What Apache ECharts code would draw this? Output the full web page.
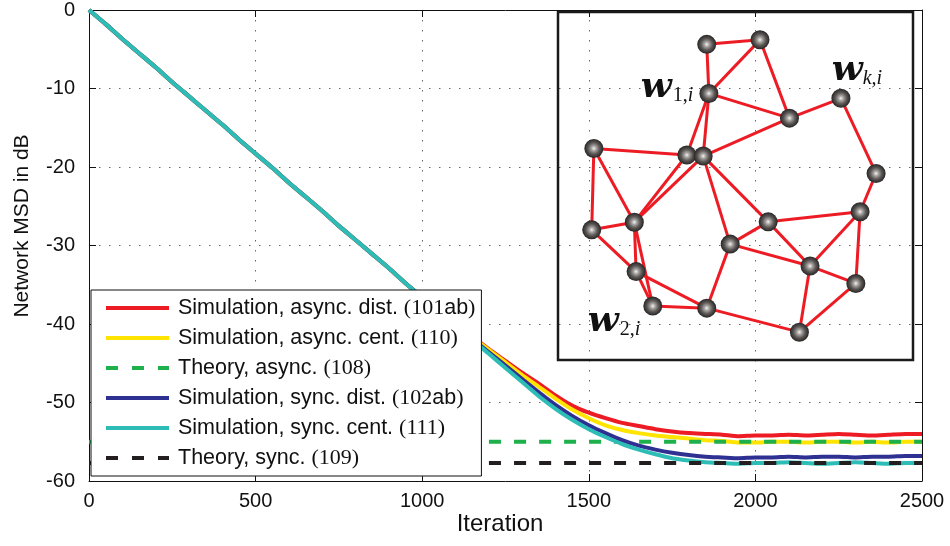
<!DOCTYPE html>
<html>
<head>
<meta charset="utf-8">
<script src="https://cdn.jsdelivr.net/npm/echarts@6/dist/echarts.min.js"></script>
<style>html,body{margin:0;padding:0;background:#fff;}#c{width:950px;height:546px;}</style>
</head>
<body>
<div id="c"></div>
<script>
// ---- data ----
var iterations = [0,50,100,150,200,250,300,350,400,450,500,550,600,650,700,750,800,850,900,950,1000,1050,
  1100,1150,1200,1250,1300,1350,1400,1450,1500,1550,1600,1650,1700,1750,1800,1850,1900,1950,2000,
  2050,2100,2150,2200,2250,2300,2350,2400,2450,2500];
var transient = [0,-1.8,-3.7,-5.5,-7.3,-9.2,-11.0,-12.8,-14.6,-16.5,-18.3,-20.1,-22.0,-23.8,-25.6,-27.5,-29.3,-31.1,-32.9,-34.8,-36.6,-38.4];
var asyncDist = [-40.0,-41.6,-43.2,-44.7,-46.2,-47.6,-49.1,-50.4,-51.3,-52.0,-52.6,-53.0,-53.4,-53.7,-53.9,-54.0,-54.1,-54.3,-54.2,-54.2,-54.1,-54.2,-54.1,-54.0,-54.1,-54.2,-54.1,-54.0,-54.0];
var asyncCent = [-40.1,-41.7,-43.3,-44.9,-46.5,-48.0,-49.5,-50.9,-52.0,-52.9,-53.5,-53.9,-54.2,-54.4,-54.6,-54.8,-54.9,-55.1,-55.1,-55.0,-55.0,-55.1,-55.0,-55.0,-55.1,-55.0,-55.1,-55.0,-55.0];
var syncDist = [-40.2,-41.9,-43.6,-45.3,-47.0,-48.7,-50.3,-51.7,-52.9,-53.9,-54.8,-55.5,-56.0,-56.4,-56.7,-56.9,-57.0,-57.1,-57.0,-57.0,-56.9,-57.0,-56.9,-56.9,-57.0,-56.9,-56.9,-56.8,-56.8];
var syncCent = [-40.3,-42.0,-43.8,-45.6,-47.4,-49.2,-50.8,-52.2,-53.4,-54.4,-55.3,-56.0,-56.6,-57.1,-57.4,-57.6,-57.7,-57.8,-57.7,-57.7,-57.6,-57.7,-57.8,-57.7,-57.6,-57.7,-57.8,-57.7,-57.7];
var theoryAsync = -55.0;
var theorySync = -57.7;
var seriesNames = ['Simulation, async. dist. (101ab)','Simulation, async. cent. (110)','Theory, async. (108)',
  'Simulation, sync. dist. (102ab)','Simulation, sync. cent. (111)','Theory, sync. (109)'];
var legendRich = ['{s|Simulation, async. dist. }{m|(101}{s|ab}{m|)}','{s|Simulation, async. cent. }{m|(110)}',
  '{s|Theory, async. }{m|(108)}','{s|Simulation, sync. dist. }{m|(102}{s|ab}{m|)}',
  '{s|Simulation, sync. cent. }{m|(111)}','{s|Theory, sync. }{m|(109)}'];
var xTicks = [0,500,1000,1500,2000,2500];
var yTicks = [-60,-50,-40,-30,-20,-10,0];
// inset network: node layout (unit square 0..100) and links
var nodeX = [41.9,56.9,42.5,65.2,79.7,10.1,36.3,40.9,89.6,21.5,9.5,59.2,85.1,48.5,22.0,71.0,83.9,26.7,41.9,68.0];
var nodeY = [90.7,92.0,76.6,69.5,75.2,60.8,58.9,58.6,53.6,39.6,37.4,39.7,42.6,33.3,25.4,27.0,22.0,15.5,14.9,8.0];
var links = [[0,1],[0,2],[1,2],[1,3],[2,3],[2,6],[2,7],[3,7],[3,4],[4,8],[8,12],[5,6],[5,9],[5,10],[6,9],[7,9],
  [7,11],[7,13],[9,10],[9,14],[9,17],[10,14],[14,17],[14,18],[17,18],[13,11],[13,18],[13,15],[11,12],[11,15],
  [12,15],[12,16],[15,16],[15,19],[16,19],[18,19]];
var nodeLabels = {2:'{w|w}{n|1,}{i|i}', 4:'{w|w}{i|k,i}', 17:'{w|w}{n|2,}{i|i}'};

var colors = ['#ED1C24','#FFE400','#1DB04B','#2E3192','#2DBDB6','#231F20'];
function join(base, tail){ return base.concat(tail); }
var seriesValues = [join(transient,asyncDist), join(transient,asyncCent), null, join(transient,syncDist), join(transient,syncCent), null];
var theoryVals = {2: theoryAsync, 5: theorySync};

var SANS = 'Liberation Sans, Arial, Helvetica, sans-serif';
var SERIF = 'Liberation Serif, DejaVu Serif, serif';
var MATH = 'DejaVu Serif, Liberation Serif, serif';

var series = seriesNames.map(function(name, k){
  var d;
  if (seriesValues[k]) d = iterations.map(function(it, i){ return [it, seriesValues[k][i]]; });
  else d = [[xTicks[0], theoryVals[k]], [xTicks[xTicks.length-1], theoryVals[k]]];
  return {
    name: name, type: 'line', xAxisIndex: 0, yAxisIndex: 0, data: d,
    symbol: 'none', smooth: 0.2, animation: false, z: 2 + k * 0.01,
    lineStyle: {color: colors[k], width: 4, type: seriesValues[k] ? 'solid' : [12, 13]},
    itemStyle: {color: colors[k]}
  };
});

var labelRich = {
  w: {fontFamily: MATH, fontWeight: 'bold', fontStyle: 'italic', fontSize: 36, lineHeight: 36, color: '#111'},
  n: {fontFamily: SERIF, fontSize: 20, color: '#111', verticalAlign: 'bottom', lineHeight: 20, padding: [14,0,0,1]},
  i: {fontFamily: SERIF, fontStyle: 'italic', fontSize: 20, color: '#111', verticalAlign: 'bottom', lineHeight: 20, padding: [14,0,0,0]}
};
var labelPos = {2: {position: 'left', distance: 6, offset: [0, -6]},
                4: {position: 'top', distance: 0, offset: [16, 0]},
                17: {position: 'left', distance: 3, offset: [0, 16]}};

var nodes = nodeX.map(function(x, i){
  var o = {value: [x, nodeY[i]]};
  if (nodeLabels[i]) {
    o.label = Object.assign({show: true, formatter: nodeLabels[i], rich: labelRich}, labelPos[i]);
  }
  return o;
});

series.push({
  name: 'network', type: 'graph', coordinateSystem: 'cartesian2d', xAxisIndex: 2, yAxisIndex: 2,
  layout: 'none', animation: false, symbol: 'circle', symbolSize: 19, z: 5,
  data: nodes,
  links: links.map(function(l){ return {source: l[0], target: l[1]}; }),
  lineStyle: {color: '#ED1C24', width: 3, opacity: 1, curveness: 0},
  itemStyle: {
    color: {type: 'radial', x: 0.5, y: 0.5, r: 0.5, colorStops: [
      {offset: 0, color: '#f4f4f4'}, {offset: 0.25, color: '#a9a5a2'},
      {offset: 0.6, color: '#5c5856'}, {offset: 1, color: '#262424'}]}
  },
  label: {show: false},
  emphasis: {disabled: true}
});

function plain(v){ return String(v); }
var gridLine = {show: true, lineStyle: {color: '#666', width: 1, type: [1.5, 8.5]}};
var legendData = seriesNames.map(function(n, k){
  return {name: n, lineStyle: {color: colors[k], width: 4, type: seriesValues[k] ? 'solid' : [12, 14], cap: 'butt'}};
});
var option = {
  animation: false,
  backgroundColor: '#fff',
  grid: [
    {left: 89, right: 28, top: 3, bottom: 65, containLabel: false},
    {left: 558, top: 12, width: 355, height: 348, show: true, borderColor: '#1a1a1a', borderWidth: 2.5, backgroundColor: 'transparent', z: 4}
  ],
  xAxis: [
    {type: 'value', gridIndex: 0, min: xTicks[0], max: xTicks[xTicks.length-1], interval: 500, position: 'bottom',
     axisLine: {show: true, onZero: false, lineStyle: {color: '#111', width: 1}},
     axisTick: {show: true, inside: true, length: 7, lineStyle: {color: '#111'}},
     axisLabel: {fontSize: 20, fontFamily: SANS, color: '#111', margin: 10, formatter: plain},
     splitLine: gridLine},
    {type: 'value', gridIndex: 0, min: xTicks[0], max: xTicks[xTicks.length-1], interval: 500, position: 'top',
     axisLine: {show: true, onZero: false, lineStyle: {color: '#111', width: 1}},
     axisTick: {show: true, inside: true, length: 7, lineStyle: {color: '#111'}},
     axisLabel: {show: false}, splitLine: {show: false}},
    {type: 'value', gridIndex: 1, min: 0, max: 100, show: false}
  ],
  yAxis: [
    {type: 'value', gridIndex: 0, min: yTicks[0], max: yTicks[yTicks.length-1], interval: 10, position: 'left',
     axisLine: {show: true, onZero: false, lineStyle: {color: '#111', width: 1}},
     axisTick: {show: true, inside: true, length: 7, lineStyle: {color: '#111'}},
     axisLabel: {fontSize: 20, fontFamily: SANS, color: '#111', margin: 14, formatter: plain},
     splitLine: gridLine},
    {type: 'value', gridIndex: 0, min: yTicks[0], max: yTicks[yTicks.length-1], interval: 10, position: 'right',
     axisLine: {show: true, onZero: false, lineStyle: {color: '#111', width: 1}},
     axisTick: {show: true, inside: true, length: 7, lineStyle: {color: '#111'}},
     axisLabel: {show: false}, splitLine: {show: false}},
    {type: 'value', gridIndex: 1, min: 0, max: 100, show: false}
  ],
  legend: {
    data: legendData, orient: 'vertical', left: 91, top: 290, selectedMode: false,
    backgroundColor: '#fff', borderColor: '#111', borderWidth: 1, borderRadius: 0,
    padding: [7, 6, 7, 13], itemGap: 8, itemWidth: 63, itemHeight: 20,
    itemStyle: {opacity: 0, borderWidth: 0},
    formatter: function(name){ return legendRich[seriesNames.indexOf(name)]; },
    textStyle: {fontSize: 21, color: '#111', lineHeight: 20, padding: [0,0,0,4],
      rich: {s: {fontFamily: SANS, fontSize: 21.5, lineHeight: 20, color: '#111'}, m: {fontFamily: SERIF, fontSize: 22, lineHeight: 20, color: '#111'}}},
    z: 10
  },
  graphic: [
    {type: 'text', style: {text: 'Iteration', font: '24px ' + SANS, fill: '#111', textAlign: 'center', textVerticalAlign: 'middle'}, x: 500, y: 524},
    {type: 'text', style: {text: 'Network MSD in dB', font: '21px ' + SANS, fill: '#111', textAlign: 'center', textVerticalAlign: 'middle'},
     x: 22, y: 226, rotation: Math.PI / 2}
  ],
  series: series
};
var chart = echarts.init(document.getElementById('c'), null, {renderer: 'canvas'});
chart.setOption(option);
</script>
</body>
</html>
